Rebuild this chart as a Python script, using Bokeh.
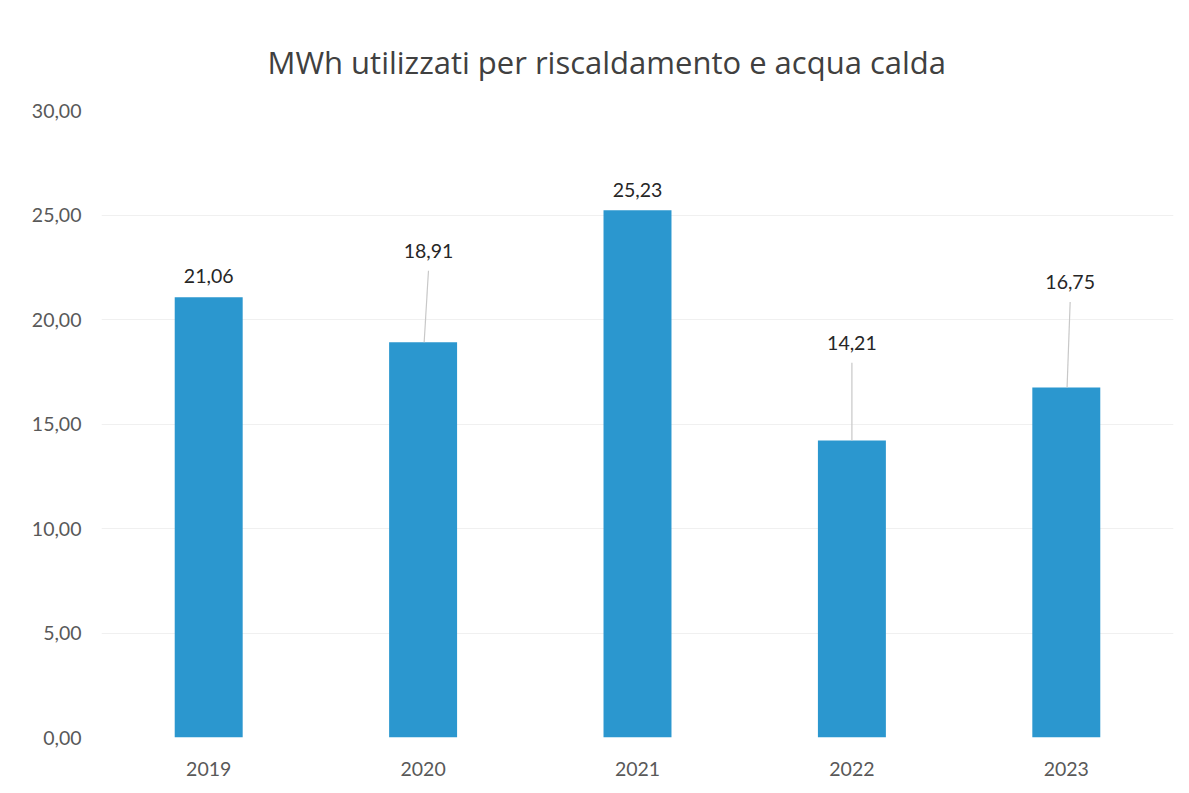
import numpy as np
from bokeh.plotting import figure
from bokeh.models import ColumnDataSource, FixedTicker, Range1d, Title
from bokeh.embed import file_html
from bokeh.resources import INLINE

years = ["2019", "2020", "2021", "2022", "2023"]
values = [21.06, 18.91, 25.23, 14.21, 16.75]
value_labels = ["21,06", "18,91", "25,23", "14,21", "16,75"]
y_ticks = [0, 5, 10, 15, 20, 25, 30]
y_tick_labels = ["0,00", "5,00", "10,00", "15,00", "20,00", "25,00", "30,00"]

# label placement (layout, not data)
label_rise = [1.0, 4.37, 0.97, 4.67, 5.04]
label_dx = [0.0, 0.025, 0.0, 0.0, 0.018]
leader = [False, True, False, True, True]

x = np.arange(1, len(years) + 1, dtype=float)
vals = np.array(values)
ly = vals + np.array(label_rise)
lx = x + np.array(label_dx)

FONT = "Lato"

p = figure(width=1178, height=783, output_backend="svg", toolbar_location=None,
           x_range=Range1d(0.5, len(years) + 0.5), y_range=Range1d(0, 30),
           min_border_left=101, min_border_right=5, min_border_bottom=46,
           min_border_top=110)
p.outline_line_color = None
p.background_fill_color = "white"
p.border_fill_color = "white"

p.title = Title(text="MWh utilizzati per riscaldamento e acqua calda",
                text_font="Open Sans", text_font_size="31px", text_font_style="normal",
                text_color="#404040", align="left", offset=166, standoff=56)

bars = ColumnDataSource(dict(x=x, top=vals))
p.vbar(x="x", top="top", bottom=0, width=0.317, source=bars,
       fill_color="#2b97cf", line_color=None)

sel = [i for i in range(len(years)) if leader[i]]
seg = ColumnDataSource(dict(x0=[x[i] + label_dx[i] * 0.2 for i in sel],
                            y0=[values[i] for i in sel],
                            x1=[lx[i] for i in sel],
                            y1=[ly[i] - 0.95 for i in sel]))
p.segment(x0="x0", y0="y0", x1="x1", y1="y1", source=seg,
          line_color="#c8c8c8", line_width=1.2)

labs = ColumnDataSource(dict(x=lx, y=ly, t=value_labels))
p.text(x="x", y="y", text="t", source=labs, text_align="center",
       text_baseline="middle", text_font={"value": FONT}, text_font_size="19.5px",
       text_color="#262626")

p.xaxis.ticker = FixedTicker(ticks=list(x))
p.xaxis.major_label_overrides = {float(xx): yr for xx, yr in zip(x, years)}
p.xaxis.major_label_overrides.update({int(xx): yr for xx, yr in zip(x, years)})
p.yaxis.ticker = FixedTicker(ticks=y_ticks)
p.yaxis.major_label_overrides = {t: l for t, l in zip(y_ticks, y_tick_labels)}

for ax in (p.xaxis, p.yaxis):
    ax.axis_line_color = None
    ax.major_tick_line_color = None
    ax.minor_tick_line_color = None
    ax.major_tick_out = 0
    ax.major_tick_in = 0
    ax.major_label_text_font = FONT
    ax.major_label_text_font_size = "19.5px"
    ax.major_label_text_color = "#595959"
p.xaxis.major_label_standoff = 24
p.yaxis.major_label_standoff = 20

p.xgrid.grid_line_color = None
p.ygrid.grid_line_color = "#f0f0f0"
p.ygrid.grid_line_width = 1

open("out.html", "w").write(file_html(p, INLINE))
